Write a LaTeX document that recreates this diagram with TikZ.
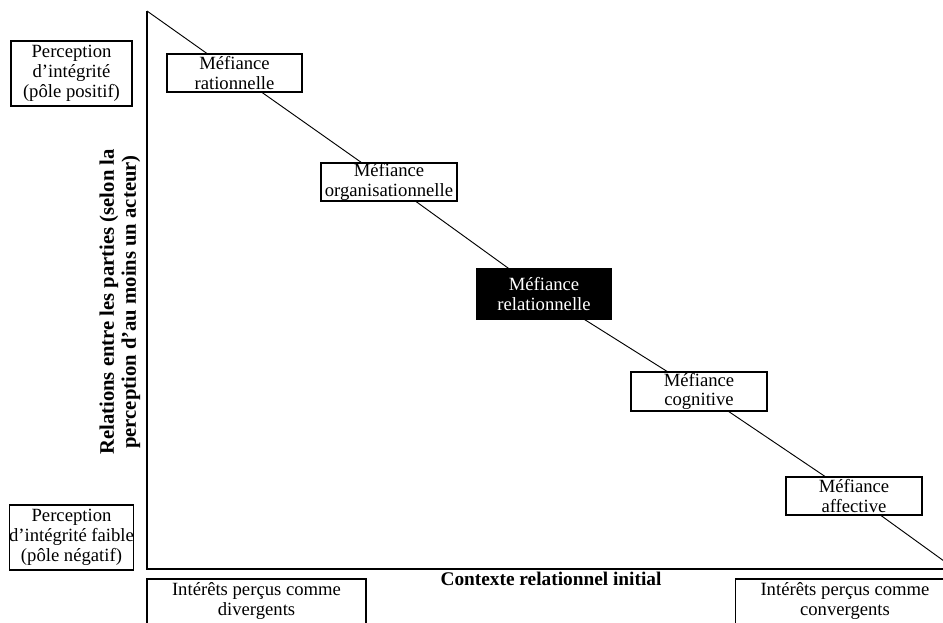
\documentclass[tikz,border=0pt]{standalone}
\usepackage{fontspec}
\setmainfont{Liberation Serif}
\begin{document}
\begin{tikzpicture}[x=0.75pt,y=-0.75pt,inner sep=0pt,outer sep=0pt,
		boite/.style={draw,line width=0.8pt,fill=white,align=center,font=\fontsize{14}{14.5}\selectfont},
		pole/.style={boite,minimum width=90.75pt,minimum height=48.75pt,font=\fontsize{14}{15}\selectfont},
		mefiance/.style={boite,minimum width=102pt,minimum height=28.5pt},
		interet/.style={boite,anchor=north,minimum width=164.25pt,inner ysep=3pt,text depth=20pt}]
	\useasboundingbox (0,0) rectangle (943,622);
	\clip (0,0) rectangle (943,622);
	% axes
	\coordinate (sommet) at (147,11);
	\coordinate (O) at (147,569);
	\coordinate (fin) at (955,569);
	\coordinate (droite) at (960,569);
	\draw[line width=1pt] (sommet)--(O)--(droite);
	% poles
	\node[pole] (positif) at (71.5,73.5) {Perception\\d’intégrité\\(pôle positif)};
	\node[pole] (negatif) at (71.5,537.5) {Perception\\d’intégrité faible\\(pôle négatif)};
	% types de mefiance
	\node[mefiance,minimum width=101.25pt] (rationnelle) at (234.5,73) {Méfiance\\rationnelle};
	\node[mefiance] (organisationnelle) at (389,182) {Méfiance\\organisationnelle};
	\node[mefiance,minimum width=100.5pt,minimum height=37.5pt,fill=black,text=white] (relationnelle) at (544,294) {Méfiance\\relationnelle};
	\node[mefiance,minimum height=29.25pt] (cognitive) at (699,391.5) {Méfiance\\cognitive};
	\node[mefiance] (affective) at (854,496) {Méfiance\\affective};
	\draw[line width=0.7pt] (sommet)--(rationnelle)--(organisationnelle)--(relationnelle)--(cognitive)--(affective)--(fin);
	% contexte
	\node[interet] (divergents) at (256.5,579) {Intérêts perçus comme\\divergents};
	\node[interet] (convergents) at (845,579) {Intérêts perçus comme\\convergents};
	\node[font=\bfseries\fontsize{14.5}{15}\selectfont] (contexte) at (551,579) {Contexte relationnel initial};
	\node[rotate=90,align=center,font=\bfseries\fontsize{15.5}{16.5}\selectfont] (relations) at (120,302) {Relations entre les parties (selon la\\perception d’au moins un acteur)};
\end{tikzpicture}
\end{document}
